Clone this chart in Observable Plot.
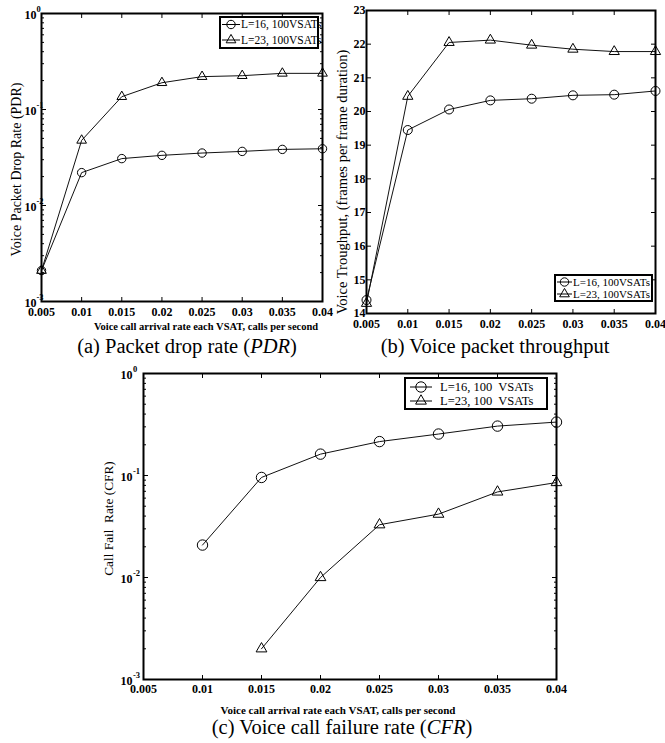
<!DOCTYPE html>
<html>
<head>
<meta charset="utf-8">
<script src="https://cdn.jsdelivr.net/npm/d3@7"></script>
<script src="https://cdn.jsdelivr.net/npm/@observablehq/plot@0.6"></script>
<style>
  html, body { margin: 0; padding: 0; background: #fff; overflow: hidden; }
  #page { position: relative; width: 665px; height: 743px; overflow: hidden;
          font-family: "Liberation Serif", "Times New Roman", serif; color: #000; }
  .panel { position: absolute; }
  .panel svg { overflow: visible; }
  .cap { position: absolute; width: 320px; text-align: center; font-size: 20.5px;
         line-height: 24px; white-space: nowrap; }
  .legend { position: absolute; overflow: visible; }
</style>
</head>
<body>
<div id="page">
  <div class="panel" id="pa" style="left:0px; top:0px;"></div>
  <div class="panel" id="pb" style="left:335px; top:0px;"></div>
  <div class="panel" id="pc" style="left:95px; top:355px;"></div>
  <div class="cap" style="left:27px; top:334px;">(a) Packet drop rate (<i>PDR</i>)</div>
  <div class="cap" style="left:335px; top:334px;">(b) Voice packet throughput</div>
  <div class="cap" style="left:182px; top:715px;">(c) Voice call failure rate (<i>CFR</i>)</div>
</div>
<script>
// ---------------- data ----------------
const xValues = [0.005, 0.01, 0.015, 0.02, 0.025, 0.03, 0.035, 0.04];
const xTickLabels = ["0.005", "0.01", "0.015", "0.02", "0.025", "0.03", "0.035", "0.04"];

// (a) voice packet drop rate
const pdrL16 = [0.0021, 0.022, 0.0308, 0.0333, 0.0352, 0.0366, 0.0384, 0.039];
const pdrL23 = [0.0021, 0.0477, 0.136, 0.19, 0.22, 0.225, 0.238, 0.238];
// (b) voice throughput
const tputL16 = [14.4, 19.45, 20.06, 20.33, 20.38, 20.48, 20.5, 20.61];
const tputL23 = [14.3, 20.45, 22.05, 22.12, 21.97, 21.85, 21.78, 21.78];
// (c) call fail rate
const cfrL16 = [null, 0.0208, 0.0957, 0.162, 0.215, 0.255, 0.305, 0.334];
const cfrL23 = [null, null, 0.002, 0.01, 0.0329, 0.0418, 0.069, 0.0853];

const logTicks = [0.001, 0.01, 0.1, 1];
const logTickLabels = ["10^-3", "10^-2", "10^-1", "10^0"];
const tputTicks = [14, 15, 16, 17, 18, 19, 20, 21, 22, 23];
const tputTickLabels = ["14", "15", "16", "17", "18", "19", "20", "21", "22", "23"];

const legendA = ["L=16, 100VSATs", "L=23, 100VSATs"];
const legendB = ["L=16, 100VSATs", "L=23, 100VSATs"];
const legendC = ["L=16, 100  VSATs", "L=23, 100  VSATs"];

const xLabel = "Voice call arrival rate each VSAT, calls per second";
const yLabelA = "Voice Packet Drop Rate (PDR)";
const yLabelB = "Voice Troughput, (frames per frame duration)";
const yLabelC = "Call Fail  Rate (CFR)";

// --------------- helpers ---------------
const FONT = '"Liberation Serif", "Times New Roman", serif';
const minorLog = [];
for (const d of [0.001, 0.01, 0.1]) for (let k = 2; k <= 9; k++) minorLog.push(d * k);

const rows = (vals) => xValues.map((x, i) => ({x, v: vals[i]}));
const fmtX = (d) => xTickLabels[xValues.indexOf(d)] ?? String(d);
const fmtLog = (d) => logTickLabels[logTicks.indexOf(d)];
const fmtTput = (d) => tputTickLabels[tputTicks.indexOf(d)];
const blank = () => "";

function boxAxes(o) {
  const m = [
    Plot.axisX(xValues, {anchor: "bottom", tickSize: 0, tickPadding: o.xPad, tickFormat: fmtX,
      fontSize: 12, fontWeight: "bold", label: null}),
    Plot.axisX(xValues, {anchor: "bottom", tickSize: -4, tickFormat: blank, label: null}),
    Plot.axisX(xValues, {anchor: "top", tickSize: -4, tickFormat: blank, label: null}),
    Plot.axisY(o.yTicks, {anchor: "left", tickSize: 0, tickPadding: o.yPad, tickFormat: o.yFormat,
      fontSize: 12, fontWeight: "bold", dy: o.yDy || 0, label: null}),
    Plot.axisY(o.yTicks, {anchor: "left", tickSize: -5, tickFormat: blank, label: null}),
    Plot.axisY(o.yTicks, {anchor: "right", tickSize: -5, tickFormat: blank, label: null})
  ];
  if (o.yMinor) m.push(
    Plot.axisY(o.yMinor, {anchor: "left", tickSize: -3, tickFormat: blank, label: null}),
    Plot.axisY(o.yMinor, {anchor: "right", tickSize: -3, tickFormat: blank, label: null}));
  return m;
}

function seriesMarks(d16, d23, rc, rt) {
  return [
    Plot.line(d16, {x: "x", y: "v", stroke: "#111", strokeWidth: 1}),
    Plot.line(d23, {x: "x", y: "v", stroke: "#111", strokeWidth: 1}),
    Plot.dot(d16, {x: "x", y: "v", symbol: "circle", r: rc, stroke: "#000", fill: "none", strokeWidth: 1}),
    Plot.dot(d23, {x: "x", y: "v", symbol: "triangle", r: rt, stroke: "#000", fill: "none", strokeWidth: 1})
  ];
}

function yTitle(text, dx, dy, fs) {
  return Plot.text([text], {frameAnchor: "left", textAnchor: "middle", lineAnchor: "bottom",
    rotate: -90, dx, dy, fontSize: fs});
}
function xTitle(text, dx, dy, fs) {
  return Plot.text([text], {frameAnchor: "bottom", textAnchor: "middle", lineAnchor: "middle",
    dx, dy, fontWeight: "bold", fontSize: fs});
}

function superscripts(svg, supDx) {
  d3.select(svg).selectAll('g[aria-label="y-axis tick label"] text').each(function () {
    const t = this.textContent;
    if (!t || t.indexOf("^") < 0) return;
    const [b, e] = t.split("^");
    const el = d3.select(this);
    el.text(b);
    const x = +(this.getAttribute("x") || 0);
    el.append("tspan").attr("x", x + supDx).attr("dy", -7.5)
      .attr("font-size", 8.5).attr("text-anchor", "start").text(e);
  });
}

function legend(host, o) {
  const svg = d3.select(host).append("svg").attr("class", "legend")
    .style("left", o.left + "px").style("top", o.top + "px")
    .attr("width", o.width).attr("height", o.height)
    .style("font-family", FONT);
  svg.append("rect").attr("x", 1).attr("y", 1).attr("width", o.width - 2).attr("height", o.height - 2)
    .attr("fill", "#fff").attr("stroke", "#000").attr("stroke-width", 2);
  const syms = [d3.symbolCircle, d3.symbolTriangle];
  const rs = [o.rc, o.rt];
  o.labels.forEach((lab, i) => {
    const cy = o.rows[i];
    svg.append("line").attr("x1", o.l0).attr("x2", o.l1).attr("y1", cy).attr("y2", cy)
      .attr("stroke", "#000").attr("stroke-width", 1);
    svg.append("path").attr("d", d3.symbol(syms[i], Math.PI * rs[i] * rs[i])())
      .attr("transform", `translate(${(o.l0 + o.l1) / 2},${cy})`)
      .attr("fill", "none").attr("stroke", "#000");
    svg.append("text").attr("x", o.tx).attr("y", cy).attr("dy", "0.33em")
      .attr("font-size", o.fs).attr("xml:space", "preserve").style("white-space", "pre").text(lab);
  });
}

// --------------- panel (a) ---------------
{
  const svg = Plot.plot({
    width: 345, height: 335, marginLeft: 41, marginTop: 13, marginRight: 23, marginBottom: 34,
    style: {fontFamily: FONT, background: "transparent", color: "#000"},
    x: {domain: [0.005, 0.04]},
    y: {type: "log", domain: [0.001, 1]},
    marks: [
      ...boxAxes({yTicks: logTicks, yFormat: fmtLog, yMinor: minorLog, xPad: 6, yPad: 5, yDy: 2}),
      ...seriesMarks(rows(pdrL16), rows(pdrL23), 4.2, 3.6),
      Plot.frame({stroke: "#000", strokeWidth: 2}),
      yTitle(yLabelA, -21, 12, 14),
      xTitle(xLabel, 24, 25, 10.5)
    ]
  });
  superscripts(svg, 0);
  document.getElementById("pa").append(svg);
  legend(document.getElementById("page"), {left: 219, top: 16, width: 100, height: 33,
    rows: [8.5, 24], l0: 3, l1: 21, tx: 22, fs: 11.5, rc: 4.2, rt: 3.6, labels: legendA});
}

// --------------- panel (b) ---------------
{
  const svg = Plot.plot({
    width: 330, height: 335, marginLeft: 31, marginTop: 10, marginRight: 10, marginBottom: 22,
    style: {fontFamily: FONT, background: "transparent", color: "#000"},
    x: {domain: [0.005, 0.04]},
    y: {domain: [14, 23]},
    marks: [
      ...boxAxes({yTicks: tputTicks, yFormat: fmtTput, xPad: 6, yPad: 1}),
      ...seriesMarks(rows(tputL16), rows(tputL23), 4.5, 3.8),
      Plot.frame({stroke: "#000", strokeWidth: 2}),
      yTitle(yLabelB, -20, 20, 14.5)
    ]
  });
  document.getElementById("pb").append(svg);
  legend(document.getElementById("page"), {left: 554, top: 274, width: 99, height: 28,
    rows: [8, 20], l0: 3, l1: 18, tx: 19, fs: 11, rc: 4.2, rt: 3.6, labels: legendB});
}

// --------------- panel (c) ---------------
{
  const svg = Plot.plot({
    width: 480, height: 370, marginLeft: 48, marginTop: 18, marginRight: 19, marginBottom: 46,
    style: {fontFamily: FONT, background: "transparent", color: "#000"},
    x: {domain: [0.005, 0.04]},
    y: {type: "log", domain: [0.001, 1]},
    marks: [
      ...boxAxes({yTicks: logTicks, yFormat: fmtLog, yMinor: minorLog, xPad: 4.5, yPad: 11, yDy: 2}),
      ...seriesMarks(rows(cfrL16), rows(cfrL23), 5.2, 4),
      Plot.frame({stroke: "#000", strokeWidth: 2}),
      yTitle(yLabelC, -31, -8, 13.3),
      xTitle(xLabel, -12, 31, 11)
    ]
  });
  superscripts(svg, 0.5);
  document.getElementById("pc").append(svg);
  legend(document.getElementById("page"), {left: 404, top: 377, width: 144, height: 33,
    rows: [10, 24], l0: 6, l1: 28, tx: 36, fs: 12.5, rc: 5.2, rt: 4, labels: legendC});
}
</script>
</body>
</html>
